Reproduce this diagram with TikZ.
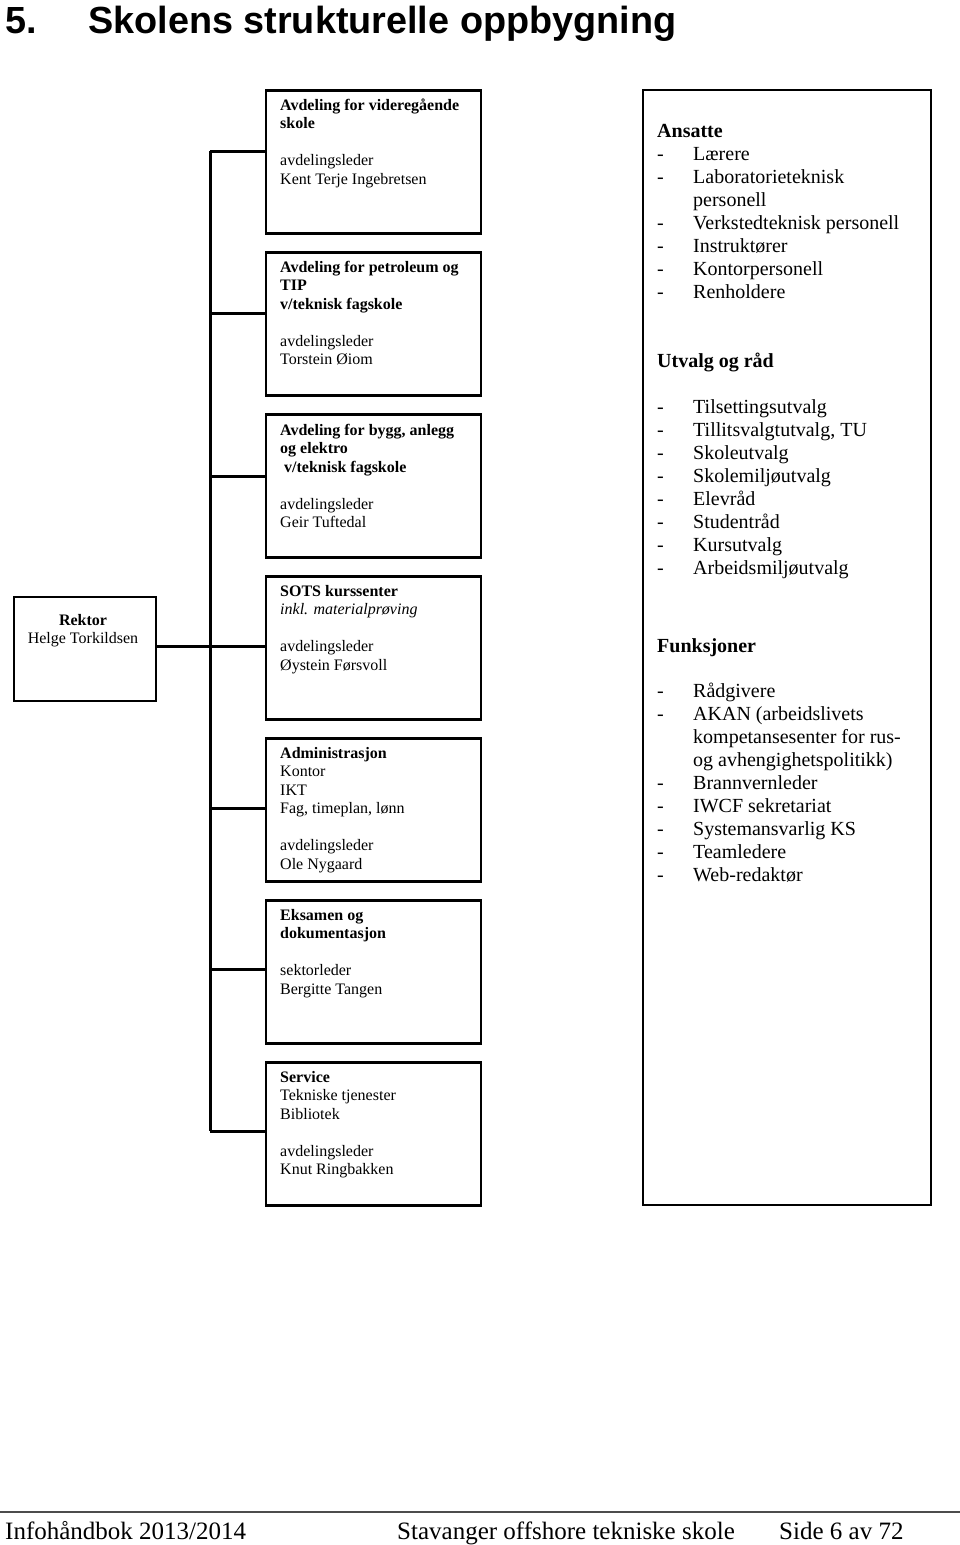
\documentclass[tikz,border=0pt]{standalone}
\usepackage{fontspec}
\setmainfont{Liberation Serif}
\newfontfamily\titlefont{Liberation Sans}
\newcommand{\itm}[1]{\makebox[36pt][l]{-}#1}
\newcommand{\cnt}[1]{\hspace*{36pt}#1}
\begin{document}
\begin{tikzpicture}[x=1pt,y=-1pt,
  box/.style={draw, line width=2.8pt, minimum width=215pt, minimum height=143pt, anchor=north west, inner sep=0pt},
  conn/.style={line width=3pt},
  btxt/.style={anchor=base west, inner sep=0pt, font=\fontsize{16}{18.5}\selectfont},
  rtxt/.style={anchor=base west, inner sep=0pt, font=\fontsize{20}{23}\selectfont},
  ftxt/.style={anchor=base west, inner sep=0pt, font=\fontsize{25}{28}\selectfont},
  ttxt/.style={anchor=base west, inner sep=0pt, font=\titlefont\bfseries\fontsize{37.8}{42}\selectfont}]
\useasboundingbox (0,0) rectangle (960,1545);

% title
\node[ttxt] (tnum) at (5,33) {5.};
\node[ttxt] (ttl) at (88,33) {Skolens strukturelle oppbygning};

% left boxes
\node[box] (b1) at (264.5,89) {};
\node[box] (b2) at (264.5,251) {};
\node[box] (b3) at (264.5,413) {};
\node[box] (b4) at (264.5,575) {};
\node[box] (b5) at (264.5,737) {};
\node[box] (b6) at (264.5,899) {};
\node[box] (b7) at (264.5,1061) {};

\node[btxt] (b1t) at (280,110) {\parbox[t]{195pt}{\raggedright\textbf{Avdeling for videregående}\\\textbf{skole}\\[18.5pt]avdelingsleder\\Kent Terje Ingebretsen}};
\node[btxt] (b2t) at (280,272) {\parbox[t]{195pt}{\raggedright\textbf{Avdeling for petroleum og}\\\textbf{TIP}\\\textbf{v/teknisk fagskole}\\[18.5pt]avdelingsleder\\Torstein Øiom}};
\node[btxt] (b3t) at (280,435) {\parbox[t]{195pt}{\raggedright\textbf{Avdeling for bygg, anlegg}\\\textbf{og elektro}\\\hspace*{4pt}\textbf{v/teknisk fagskole}\\[18.5pt]avdelingsleder\\Geir Tuftedal}};
\node[btxt] (b4t) at (280,596) {\parbox[t]{195pt}{\raggedright\textbf{SOTS kurssenter}\\\textit{inkl. materialprøving}\\[18.5pt]avdelingsleder\\Øystein Førsvoll}};
\node[btxt] (b5t) at (280,758) {\parbox[t]{195pt}{\raggedright\textbf{Administrasjon}\\Kontor\\IKT\\Fag, timeplan, lønn\\[18.5pt]avdelingsleder\\Ole Nygaard}};
\node[btxt] (b6t) at (280,920) {\parbox[t]{195pt}{\raggedright\textbf{Eksamen og}\\\textbf{dokumentasjon}\\[18.5pt]sektorleder\\Bergitte Tangen}};
\node[btxt] (b7t) at (280,1082) {\parbox[t]{195pt}{\raggedright\textbf{Service}\\Tekniske tjenester\\Bibliotek\\[18.5pt]avdelingsleder\\Knut Ringbakken}};

% Rektor
\node[draw, line width=2.8pt, minimum width=142pt, minimum height=104pt, anchor=north west, inner sep=0pt] (rektor) at (12.5,595.5) {};
\node[anchor=base, inner sep=0pt, font=\fontsize{16}{18.5}\selectfont] (rektort) at (83,625) {\parbox[t]{140pt}{\centering\textbf{Rektor}\\Helge Torkildsen}};

% connectors
\coordinate (t1) at (210,151);
\coordinate (t2) at (210,313);
\coordinate (t3) at (210,476);
\coordinate (t4) at (210,646);
\coordinate (t5) at (210,808);
\coordinate (t6) at (210,969);
\coordinate (t7) at (210,1131);
\draw[conn] (t1) -- (t7);
\draw[conn] (t1) -- (t1 -| b1.west);
\draw[conn] (t2) -- (t2 -| b2.west);
\draw[conn] (t3) -- (t3 -| b3.west);
\draw[conn] (rektor.east |- t4) -- (t4) -- (t4 -| b4.west);
\draw[conn] (t5) -- (t5 -| b5.west);
\draw[conn] (t6) -- (t6 -| b6.west);
\draw[conn] (t7) -- (t7 -| b7.west);

% right box
\node[draw, line width=2.4pt, minimum width=288pt, minimum height=1115pt, anchor=north west, inner sep=0pt] (rbox) at (641.5,89) {};
\node[rtxt] (r1) at (657,137) {\parbox[t]{270pt}{\textbf{Ansatte}\\
\itm{Lærere}\\
\itm{Laboratorieteknisk}\\
\cnt{personell}\\
\itm{Verkstedteknisk personell}\\
\itm{Instruktører}\\
\itm{Kontorpersonell}\\
\itm{Renholdere}}};
\node[rtxt] (r2) at (657,367) {\parbox[t]{270pt}{\textbf{Utvalg og råd}\\[23pt]
\itm{Tilsettingsutvalg}\\
\itm{Tillitsvalgtutvalg, TU}\\
\itm{Skoleutvalg}\\
\itm{Skolemiljøutvalg}\\
\itm{Elevråd}\\
\itm{Studentråd}\\
\itm{Kursutvalg}\\
\itm{Arbeidsmiljøutvalg}}};
\node[rtxt] (r3) at (657,652) {\parbox[t]{270pt}{\textbf{Funksjoner}\\[22pt]
\itm{Rådgivere}\\
\itm{AKAN (arbeidslivets}\\
\cnt{kompetansesenter for rus-}\\
\cnt{og avhengighetspolitikk)}\\
\itm{Brannvernleder}\\
\itm{IWCF sekretariat}\\
\itm{Systemansvarlig KS}\\
\itm{Teamledere}\\
\itm{Web-redaktør}}};

% footer
\coordinate (fl) at (0,1512);
\coordinate (fr) at (960,1512);
\draw[line width=1.5pt, black!70] (fl) -- (fr);
\node[ftxt] (f1) at (5,1539) {Infohåndbok 2013/2014};
\node[ftxt] (f2) at (397,1539) {Stavanger offshore tekniske skole};
\node[ftxt] (f3) at (779,1539) {Side 6 av 72};
\end{tikzpicture}
\end{document}
